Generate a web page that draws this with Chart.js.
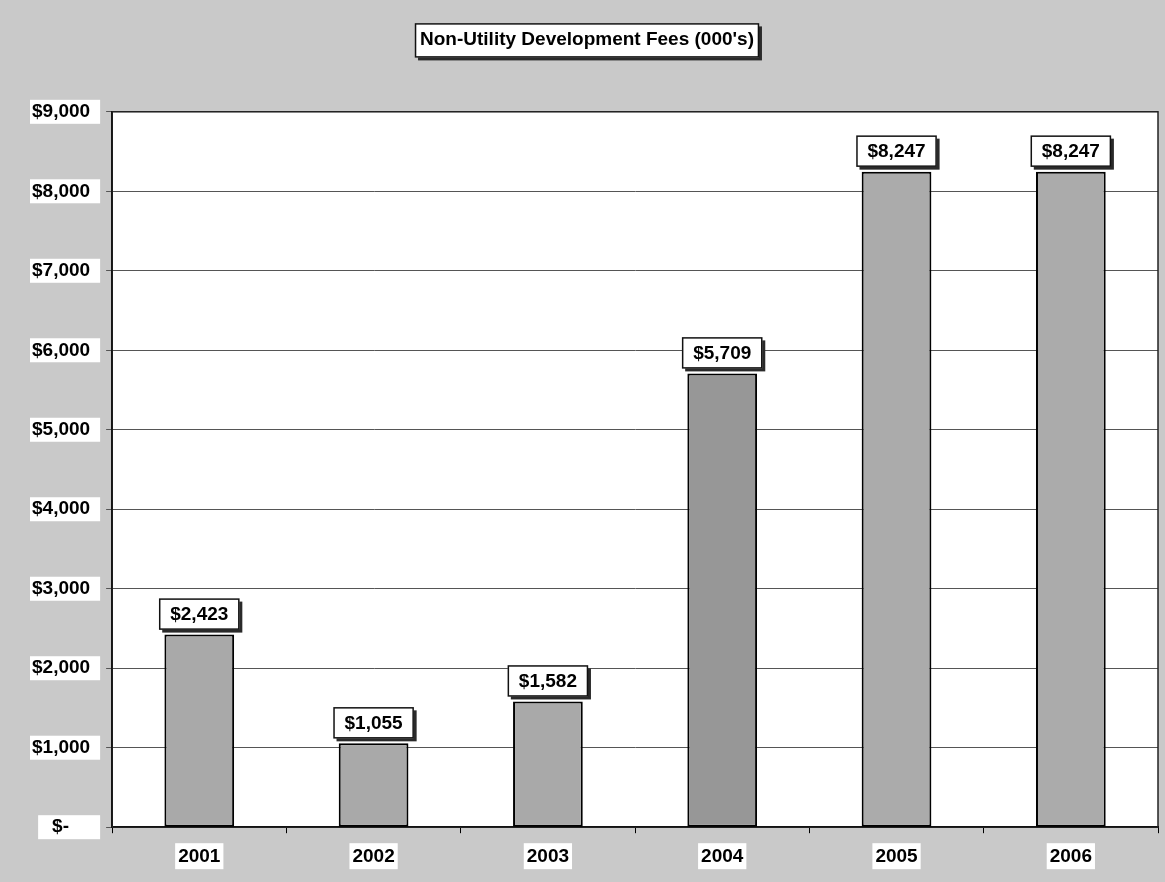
<!DOCTYPE html>
<html>
<head>
<meta charset="utf-8">
<script src="https://cdn.jsdelivr.net/npm/chart.js@4/dist/chart.umd.min.js"></script>
<style>
  html, body { margin: 0; padding: 0; background: #c9c9c9; }
  #wrap { width: 1165px; height: 882px; }
</style>
</head>
<body>
<div id="wrap"><canvas id="feesChart" width="1165" height="882"></canvas></div>
<script>
// fees by year, thousands of dollars
var years = ['2001', '2002', '2003', '2004', '2005', '2006'];
var fees = [2423, 1055, 1582, 5709, 8247, 8247];
var yTicks = [0, 1000, 2000, 3000, 4000, 5000, 6000, 7000, 8000, 9000];
var chartTitle = "Non-Utility Development Fees (000's)";

var barColors = ['#a9a9a9', '#a9a9a9', '#a9a9a9', '#979797', '#ababab', '#ababab'];
var fontFamily = '"Liberation Sans", Arial, sans-serif';

function money(v) {
    if (v === 0) return '$-    ';
    return '$' + v.toLocaleString('en-US');
}

// draws a white box with a thin border and a dark drop shadow
function labelBox(ctx, x, y, w, h, border, shadow) {
    if (shadow) {
        ctx.fillStyle = '#2a2a2a';
        ctx.fillRect(x + 3, y + 3, w, h);
    }
    ctx.fillStyle = '#ffffff';
    ctx.fillRect(x, y, w, h);
    if (border) {
        ctx.strokeStyle = '#111111';
        ctx.lineWidth = 1.5;
        ctx.strokeRect(x + 0.5, y + 0.5, w - 1, h - 1);
    }
}

// page fill, plot fill, title box and the white patches behind the tick labels
var backdrops = {
    id: 'backdrops',
    beforeDraw: function(chart) {
        var ctx = chart.ctx;
        var area = chart.chartArea;
        ctx.save();
        ctx.fillStyle = '#c9c9c9';
        ctx.fillRect(0, 0, chart.width, chart.height);
        ctx.fillStyle = '#ffffff';
        ctx.fillRect(area.left, area.top, area.right - area.left, area.bottom - area.top);

        // title box
        var tb = chart.titleBlock;
        var tOpts = chart.options.plugins.title;
        ctx.font = 'bold ' + tOpts.font.size + 'px ' + fontFamily;
        var tw = ctx.measureText(chartTitle).width;
        var tcx = (tb.left + tb.right) / 2;
        var tcy = tb.top + tOpts.padding.top + tOpts.font.size * 1.2 / 2;
        labelBox(ctx, tcx - tw / 2 - 5, tcy - 16, tw + 10, 34, true, true);

        // y tick label patches
        var ys = chart.scales.y;
        ctx.font = 'bold 19px ' + fontFamily;
        ys.ticks.forEach(function(t, i) {
            var txt = money(t.value);
            var w = Math.max(ctx.measureText(txt).width, 50) + 12;
            var py = ys.getPixelForTick(i);
            var right = ys.right - 12;
            labelBox(ctx, right - w, py - 12, w, 24, false, false);
        });

        // x tick label patches
        var xs = chart.scales.x;
        xs.ticks.forEach(function(t, i) {
            var w = ctx.measureText(years[i]).width + 6;
            var px = xs.getPixelForTick(i);
            labelBox(ctx, px - w / 2, xs.top + 16, w, 26, false, false);
        });
        ctx.restore();
    },
    beforeDatasetsDraw: function(chart) {
        var ctx = chart.ctx;
        var area = chart.chartArea;
        ctx.save();
        ctx.strokeStyle = '#222222';
        ctx.lineWidth = 1.5;
        ctx.strokeRect(area.left, area.top, area.right - area.left, area.bottom - area.top);
        ctx.restore();
    }
};

// value labels in boxes above each bar
var valueLabels = {
    id: 'valueLabels',
    afterDatasetsDraw: function(chart) {
        var ctx = chart.ctx;
        var meta = chart.getDatasetMeta(0);
        ctx.save();
        ctx.font = 'bold 19px ' + fontFamily;
        ctx.textAlign = 'center';
        ctx.textBaseline = 'middle';
        meta.data.forEach(function(bar, i) {
            var txt = money(fees[i]);
            var w = ctx.measureText(txt).width + 22;
            var h = 31;
            var top = bar.y - 5 - h;
            labelBox(ctx, bar.x - w / 2, top, w, h, true, true);
            ctx.fillStyle = '#000000';
            ctx.fillText(txt, bar.x, top + h / 2 + 1);
        });
        ctx.restore();
    }
};

var ctx = document.getElementById('feesChart').getContext('2d');
var feesChart = new Chart(ctx, {
    type: 'bar',
    data: {
        labels: years,
        datasets: [{
            data: fees,
            backgroundColor: barColors,
            borderColor: '#000000',
            borderWidth: 2,
            borderSkipped: false,
            barPercentage: 0.4,
            categoryPercentage: 1.0
        }]
    },
    options: {
        responsive: false,
        animation: false,
        layout: {
            padding: { left: 16, right: 7, top: 0, bottom: 2 }
        },
        plugins: {
            legend: { display: false },
            tooltip: { enabled: false },
            title: {
                display: true,
                text: chartTitle,
                color: '#000000',
                font: { family: fontFamily, size: 19, weight: 'bold' },
                padding: { top: 28, bottom: 61 }
            }
        },
        scales: {
            x: {
                grid: {
                    display: true,
                    drawOnChartArea: false,
                    drawTicks: true,
                    tickLength: 6,
                    offset: true,
                    color: '#000000'
                },
                border: { display: true, color: '#000000', width: 2 },
                ticks: {
                    color: '#000000',
                    padding: 12,
                    font: { family: fontFamily, size: 19, weight: 'bold' }
                }
            },
            y: {
                min: 0,
                max: 9000,
                afterBuildTicks: function(scale) {
                    scale.ticks = yTicks.map(function(v) { return { value: v }; });
                },
                grid: {
                    color: '#555555',
                    lineWidth: 1,
                    drawTicks: true,
                    tickLength: 6
                },
                border: { display: true, color: '#000000', width: 2 },
                ticks: {
                    color: '#000000',
                    padding: 16,
                    font: { family: fontFamily, size: 19, weight: 'bold' },
                    callback: function(v) { return money(v); }
                }
            }
        }
    },
    plugins: [backdrops, valueLabels]
});
</script>
</body>
</html>
